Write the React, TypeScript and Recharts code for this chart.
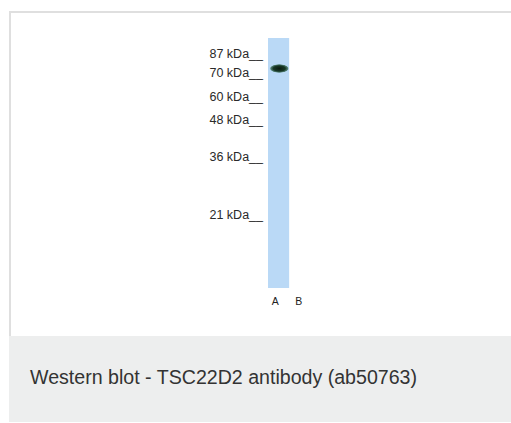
import { ComposedChart, Bar, Scatter, XAxis, YAxis } from 'recharts'

// lanes on the membrane
const lanes = ['A', 'B']
// protein loaded (100 = full lane of lysate, 0 = empty lane)
const laneLoad = [100, 0]
// detected band, migration in % of lane length (null = no band)
const bandMigration = [12.2, null]

// molecular weight marker ladder
const markerKDa = [87, 70, 60, 48, 36, 21]
const markerMigration = [8.0, 15.7, 25.1, 34.4, 49.1, 72.5]

const LANE_BLUE = '#bad9f6'
const FONT = '"Liberation Sans", Arial, Helvetica, sans-serif'

const data = lanes.map((lane, i) => ({
  lane,
  load: laneLoad[i],
  band: bandMigration[i],
}))

function MarkerTick({ x, y, payload }: any) {
  const idx = markerMigration.indexOf(payload.value)
  const label = idx >= 0 ? `${markerKDa[idx]} kDa__` : ''
  return (
    <text x={x} y={y} textAnchor="end" fontSize={12.5} fill="#2a2a2a" fontFamily={FONT}>
      {label}
    </text>
  )
}

function BandShape({ cx, cy }: any) {
  if (cx == null || cy == null) return null
  return <ellipse cx={cx + 0.5} cy={cy} rx={10} ry={4.6} fill="url(#bandGrad)" />
}

export default function App() {
  return (
    <div
      style={{
        position: 'absolute', left: 0, top: 0, width: 511, height: 423,
        overflow: 'hidden', background: '#fff', fontFamily: FONT,
      }}
    >
      <div
        style={{
          position: 'absolute', left: 9, top: 11, width: 520, height: 325,
          boxSizing: 'border-box', border: '2px solid #dfdfdf', borderBottom: 'none',
        }}
      />
      <div style={{ position: 'absolute', left: 180, top: 30 }}>
        <ComposedChart
          width={160}
          height={290}
          data={data}
          margin={{ top: 8, right: 26, bottom: 2, left: 7 }}
          barCategoryGap={0}
        >
          <defs>
            <radialGradient id="bandGrad" cx="50%" cy="50%" r="50%">
              <stop offset="0%" stopColor="#0a1a10" />
              <stop offset="60%" stopColor="#173826" />
              <stop offset="85%" stopColor="#3f6f5c" stopOpacity={0.85} />
              <stop offset="100%" stopColor={LANE_BLUE} stopOpacity={0} />
            </radialGradient>
          </defs>
          <XAxis
            dataKey="lane"
            type="category"
            axisLine={false}
            tickLine={false}
            tickSize={0}
            tickMargin={10}
            height={30}
            tick={{ fill: '#222', fontSize: 10.5, dx: -3.5, fontFamily: FONT }}
          />
          <YAxis
            type="number"
            domain={[0, 100]}
            reversed
            allowDataOverflow
            ticks={markerMigration}
            interval={0}
            width={80}
            axisLine={false}
            tickLine={false}
            tickSize={0}
            tickMargin={4}
            tick={<MarkerTick />}
          />
          <Bar dataKey="load" fill={LANE_BLUE} barSize={24} isAnimationActive={false} />
          <Scatter dataKey="band" shape={<BandShape />} isAnimationActive={false} />
        </ComposedChart>
      </div>
      <div
        style={{
          position: 'absolute', left: 9, top: 336, width: 502, height: 86,
          background: '#edeeee',
        }}
      >
        <div
          style={{
            position: 'absolute', left: 21, top: 29, fontSize: 19.6,
            lineHeight: '24px', color: '#333', whiteSpace: 'nowrap',
          }}
        >
          Western blot - TSC22D2 antibody (ab50763)
        </div>
      </div>
    </div>
  )
}
